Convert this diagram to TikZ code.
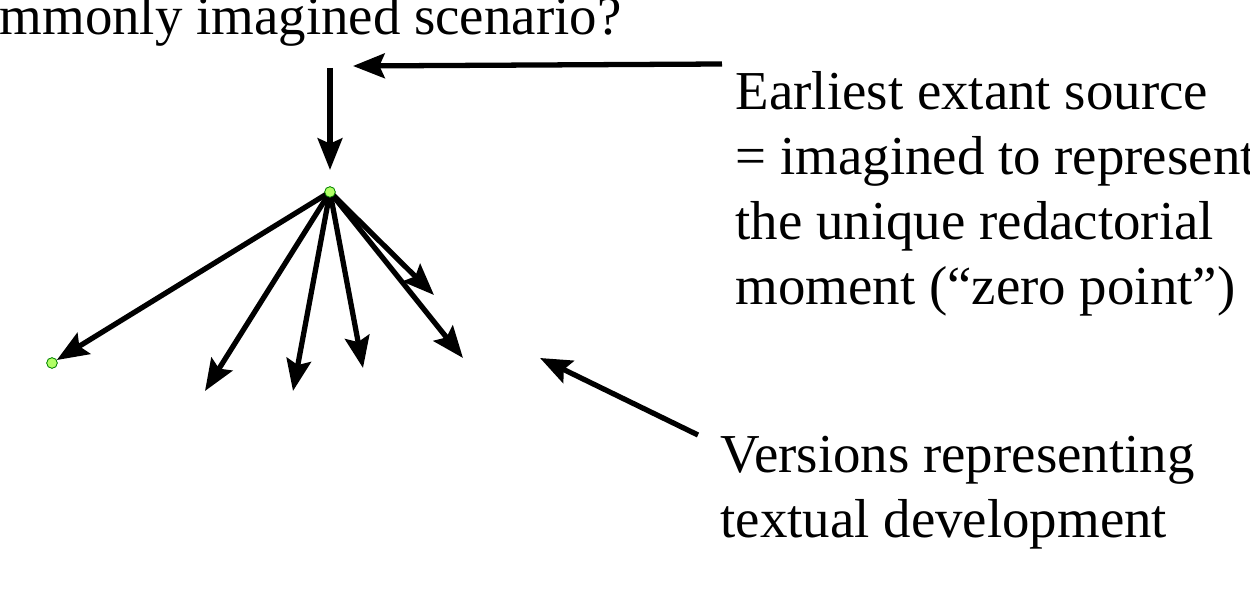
\documentclass[tikz,border=0pt]{standalone}
\usepackage{fontspec}
\setmainfont{Liberation Serif}
\usetikzlibrary{arrows.meta}
\begin{document}
\begin{tikzpicture}[x=0.01cm,y=-0.01cm,
  arr/.style={line width=1.5pt,-{Stealth[length=9pt,width=7pt,inset=1.5pt]}},
  lbl/.style={anchor=base west,inner sep=0pt,font=\fontsize{15.6}{18.5}\selectfont},
  dot/.style={circle,fill=green!50!yellow!60,draw=green!50!black,line width=0.2pt,inner sep=0pt,minimum size=3pt}]
\useasboundingbox (0,0) rectangle (1250,591);
\clip (0,0) rectangle (1250,591);
\node[lbl,anchor=base east] (top) at (622,35) {Commonly imagined scenario?};
\node[lbl] (s1) at (735,110) {Earliest extant source};
\node[lbl] (s2) at (735,175) {= imagined to represent};
\node[lbl] (s3) at (735,240) {the unique redactorial};
\node[lbl] (s4) at (735,305) {moment (“zero point”)};
\node[lbl] (v1) at (720,473) {Versions representing};
\node[lbl] (v2) at (720,538) {textual development};
\coordinate (vs) at (330,68);
\coordinate (ve) at (330,170);
\coordinate (hs) at (722,64);
\coordinate (he) at (353,66);
\node[dot] (root) at (330,192) {};
\node[dot] (l1) at (52,363) {};
\coordinate (l2) at (205,391);
\coordinate (l3) at (293,391);
\coordinate (l4) at (363,368);
\coordinate (l5) at (463,358);
\coordinate (l6) at (434,295);
\coordinate (vstart) at (698,435);
\coordinate (vend) at (540,358);
\draw[arr] (vs) -- (ve);
\draw[arr] (hs) -- (he);
\foreach \t in {l1,l2,l3,l4,l5,l6} \draw[arr] (root.center) -- (\t);
\draw[arr] (vstart) -- (vend);
\node[dot] at (root) {};
\node[dot] at (l1) {};
\end{tikzpicture}
\end{document}
